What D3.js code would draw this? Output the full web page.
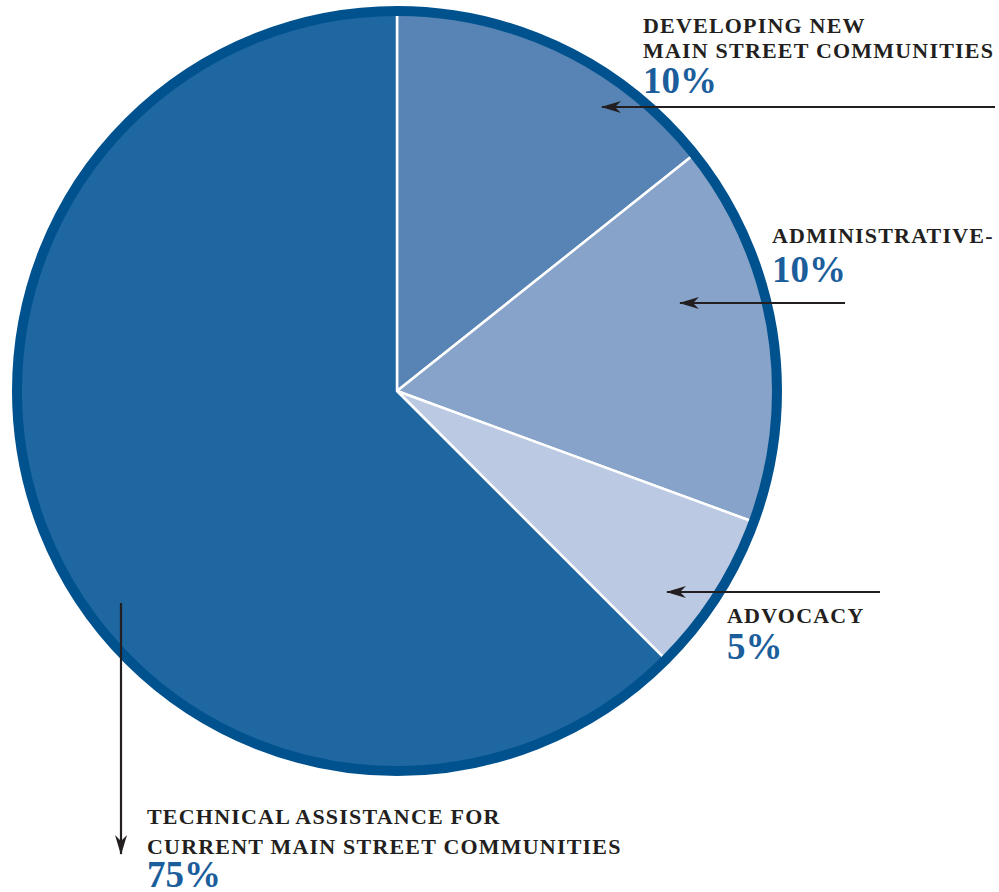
<!DOCTYPE html>
<html>
<head>
<meta charset="utf-8">
<script src="https://cdn.jsdelivr.net/npm/d3@7"></script>
<style>
  body { margin: 0; background: #fff; }
  .lbl { font-family: "Liberation Serif", "DejaVu Serif", serif; font-weight: bold; fill: #231f20; font-size: 22px; letter-spacing: 1.2px; }
  .pct { font-family: "Liberation Serif", "DejaVu Serif", serif; font-weight: bold; fill: #1b5e9b; font-size: 37px; }
</style>
</head>
<body>
<div id="chart"></div>
<script>
const categories = ["Developing New Main Street Communities", "Administrative", "Advocacy", "Technical Assistance for Current Main Street Communities"];
const sliceValues = [14.3, 16.3, 6.9, 62.5];
const pctLabels = ["10%", "10%", "5%", "75%"];
const labelLines = [
    ["DEVELOPING NEW", "MAIN STREET COMMUNITIES"],
    ["ADMINISTRATIVE-"],
    ["ADVOCACY"],
    ["TECHNICAL ASSISTANCE FOR", "CURRENT MAIN STREET COMMUNITIES"]
];
const colors = ["#5784b4", "#87a3c9", "#bbcae2", "#1f67a0"];

const width = 999, height = 892;
const cx = 397, cy = 391, radius = 385, ring = 10;

const svg = d3.select("#chart").append("svg")
    .attr("width", width)
    .attr("height", height);

svg.append("defs").append("marker")
    .attr("id", "head")
    .attr("viewBox", "0 0 20 12")
    .attr("refX", 19).attr("refY", 6)
    .attr("markerWidth", 20).attr("markerHeight", 12)
    .attr("markerUnits", "userSpaceOnUse")
    .attr("orient", "auto")
    .append("path")
    .attr("d", "M20,6 L0,0 L6,6 L0,12 Z")
    .attr("fill", "#231f20");

const pie = d3.pie().sort(null).value(d => d);
const arc = d3.arc().innerRadius(0).outerRadius(radius - ring / 2);

const g = svg.append("g").attr("transform", `translate(${cx},${cy})`);

g.selectAll("path.slice")
    .data(pie(sliceValues))
    .enter()
    .append("path")
    .attr("class", "slice")
    .attr("d", arc)
    .attr("fill", (d, i) => colors[i])
    .attr("stroke", "#fff")
    .attr("stroke-width", 2.5)
    .attr("stroke-linejoin", "round");

// outer ring
g.append("circle")
    .attr("r", radius - ring / 2)
    .attr("fill", "none")
    .attr("stroke", "#00528f")
    .attr("stroke-width", ring);

// label layout (leader lines + text)
const labels = [
    {x: 643, y: 33, lh: 25, py: 93, line: [[995, 107], [602, 107]]},
    {x: 772, y: 243, lh: 25, py: 282, line: [[845, 303], [680, 303]]},
    {x: 727, y: 623, lh: 25, py: 659, line: [[880, 592], [667, 592]]},
    {x: 147, y: 824, lh: 30, py: 887, line: [[121, 603], [121, 854]]}
];

labels.forEach(function(l, i) {
    svg.append("path")
        .attr("d", d3.line()(l.line))
        .attr("stroke", "#231f20")
        .attr("stroke-width", 2.2)
        .attr("fill", "none")
        .attr("marker-end", "url(#head)");

    const t = svg.append("text").attr("class", "lbl");
    labelLines[i].forEach(function(s, j) {
        t.append("tspan").attr("x", l.x).attr("y", l.y + j * l.lh).text(s);
    });

    svg.append("text")
        .attr("class", "pct")
        .attr("x", l.x)
        .attr("y", l.py)
        .text(pctLabels[i]);
});
</script>
</body>
</html>
